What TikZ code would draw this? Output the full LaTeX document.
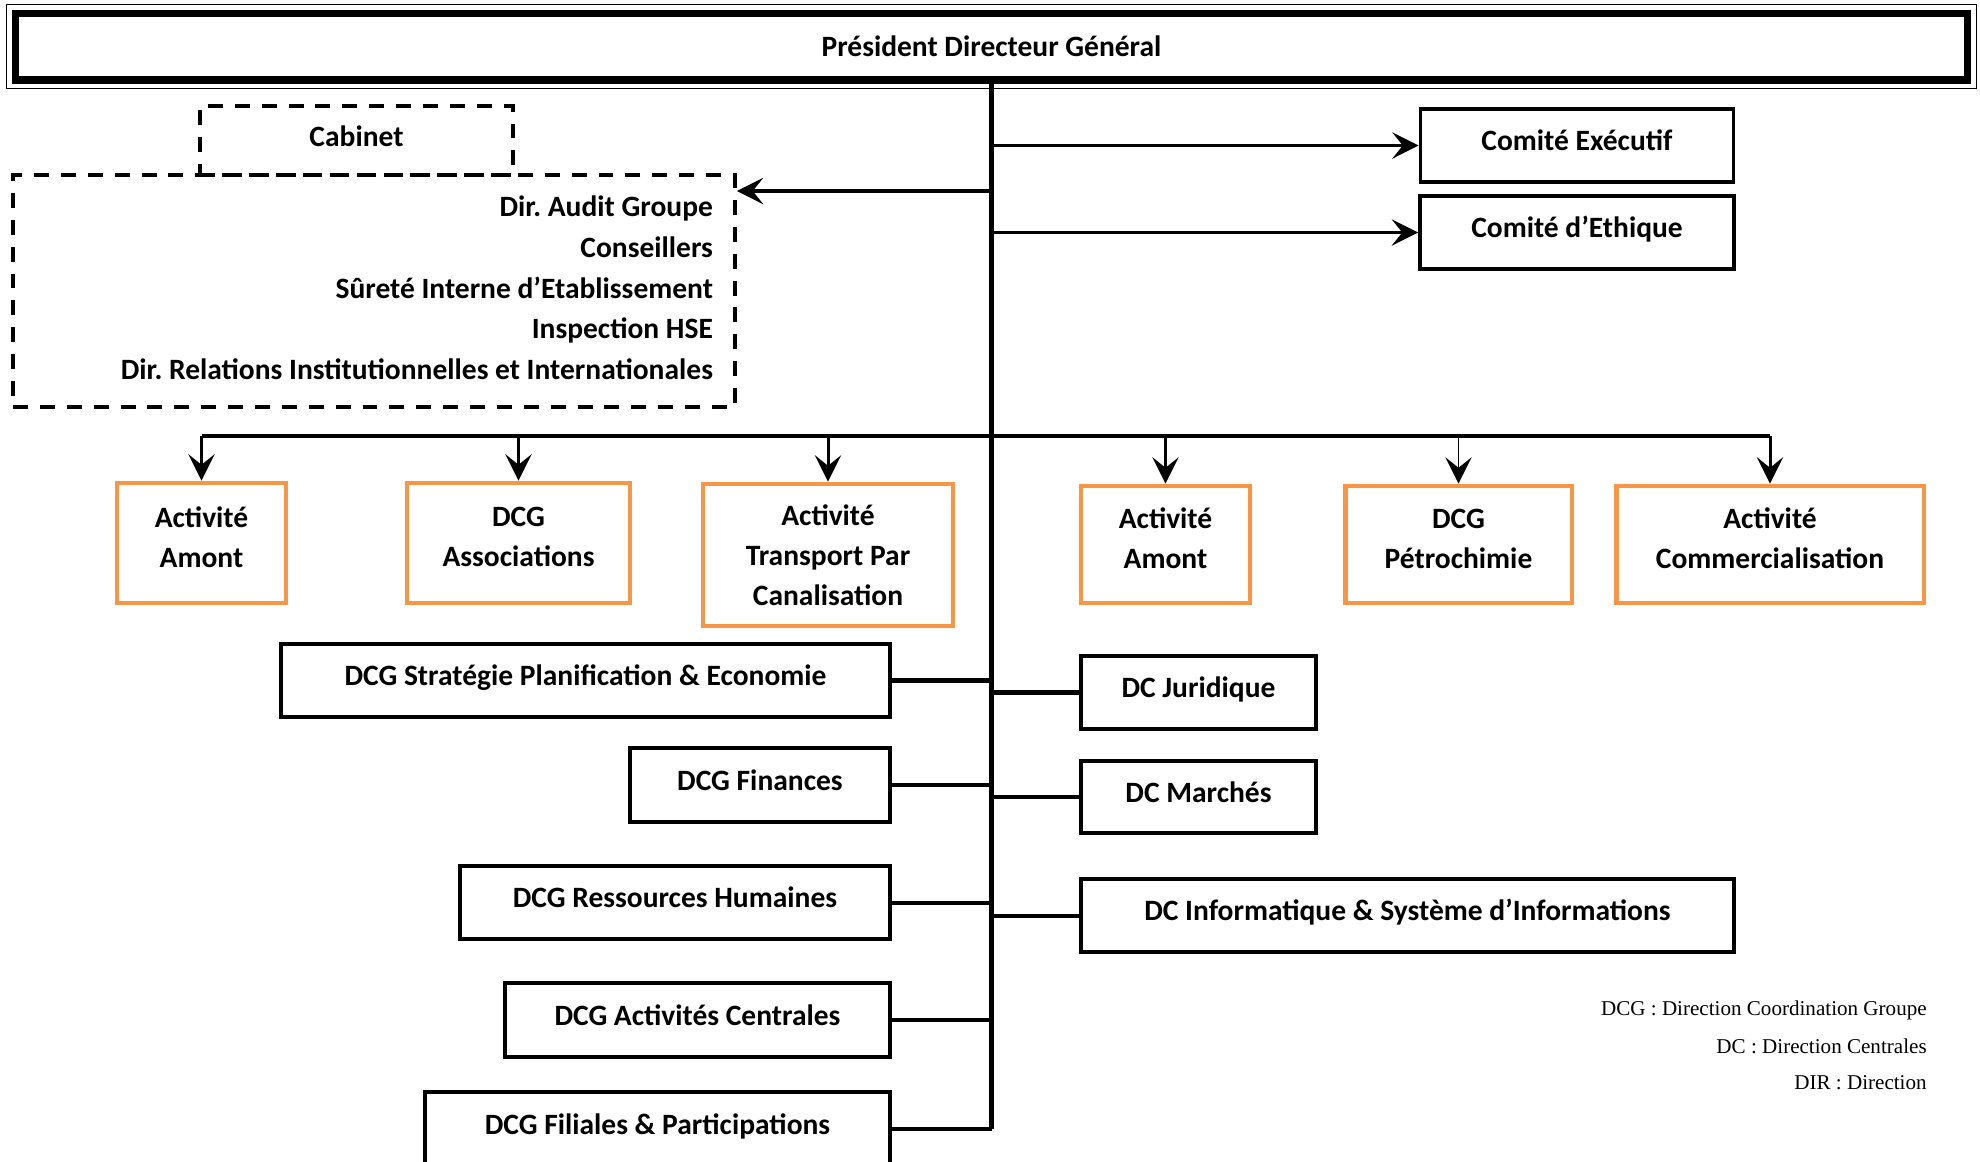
\documentclass[tikz,border=0pt]{standalone}
\usepackage{fontspec}
\setmainfont{Carlito}
\newfontfamily\legendfont{Liberation Serif}
\frenchspacing
\usetikzlibrary{arrows.meta}
\definecolor{actorange}{HTML}{F79646}
\tikzset{
  blackbox/.style={draw,line width=2.2pt,minimum height=1.46cm,inner sep=0pt,text height=11pt,text depth=5pt},
  actbox/.style={draw=actorange,line width=2.8pt,minimum height=2.34cm,inner sep=0pt,align=center,text depth=7pt},
  dashbox/.style={draw,line width=2.2pt,dash pattern=on 8.5pt off 6.8pt,inner sep=0pt},
  link/.style={line width=2.3pt},
  arrowlink/.style={line width=2pt,-{Stealth[length=15pt,width=15pt,inset=6pt]}},
  legend/.style={anchor=east,inner sep=0pt,font=\legendfont\mdseries\fontsize{12}{14}\selectfont}
}
\newcommand{\orgbox}[4][]{\node[blackbox,#1] at (#2) (#3) {#4}}
\newcommand{\activity}[4][]{\node[actbox,#1] at (#2) (#3) {#4}}

\begin{document}
\begin{tikzpicture}[x=0.02cm,y=-0.02cm,font=\fontsize{16.8}{22.8}\selectfont\bfseries]
  \useasboundingbox (0,0) rectangle (1980,1161);
  \clip (0,0) rectangle (1980,1161);

  \node[draw,line width=4pt,minimum width=39.06cm,minimum height=1.34cm,inner sep=0pt,text height=11pt,text depth=0pt] at (991.5,46.5) (pdg) {Président Directeur Général};
  \draw[line width=0.8pt] ([shift={(-5,-5)}]pdg.north west) rectangle ([shift={(5,5)}]pdg.south east);

  \node[dashbox,minimum width=6.26cm,minimum height=1.38cm,text height=11pt,text depth=4pt] at (356.5,140.5) (cabinet) {Cabinet};
  \node[dashbox,minimum width=14.44cm,minimum height=4.64cm,text width=13.56cm,align=flush right,text depth=96.6pt,font=\fontsize{16.8}{23.2}\selectfont\bfseries] at (374,291) (staff)
    {Dir. Audit Groupe\\Conseillers\\Sûreté Interne d’Etablissement\\Inspection HSE\\Dir. Relations Institutionnelles et Internationales};

  \orgbox[minimum width=6.26cm]{1577,145.5}{comex}{Comité Exécutif};
  \orgbox[minimum width=6.28cm]{1577,232.5}{ethic}{Comité d’Ethique};

  \activity[minimum width=3.38cm,minimum height=2.4cm]{201.5,543}{amontA}{Activité\\Amont};
  \activity[minimum width=4.46cm,minimum height=2.4cm]{518.5,543}{assoc}{DCG\\Associations};
  \activity[minimum width=5cm,minimum height=2.84cm,text depth=0pt]{828,555}{transp}{Activité\\Transport Par\\Canalisation};
  \activity[minimum width=3.38cm]{1165.5,544.5}{amontB}{Activité\\Amont};
  \activity[minimum width=4.54cm]{1458.5,544.5}{petro}{DCG\\Pétrochimie};
  \activity[minimum width=6.16cm]{1770,544.5}{commerc}{Activité\\Commercialisation};

  \orgbox[minimum width=12.18cm]{585.5,680.5}{strat}{DCG Stratégie Planification \& Economie};
  \orgbox[minimum width=5.2cm,minimum height=1.48cm]{760,785}{fin}{DCG Finances};
  \orgbox[minimum width=8.6cm]{675,902.5}{rh}{DCG Ressources Humaines};
  \orgbox[minimum width=7.7cm,minimum height=1.48cm]{697.5,1020}{actc}{DCG Activités Centrales};
  \orgbox[minimum width=9.3cm,minimum height=1.48cm]{657.5,1129}{filia}{DCG Filiales \& Participations};

  \orgbox[minimum width=4.7cm]{1198.5,692.5}{jurid}{DC Juridique};
  \orgbox[minimum width=4.7cm,minimum height=1.44cm]{1198.5,797}{march}{DC Marchés};
  \orgbox[minimum width=13.06cm]{1407.5,915.5}{info}{DC Informatique \& Système d’Informations};

  \node[legend] at (1927,1010) (leg1) {DCG : Direction Coordination Groupe};
  \node[legend] at (1927,1046) (leg2) {DC : Direction Centrales};
  \node[legend] at (1927,1083) (leg3) {DIR : Direction};

  \coordinate (audit) at (990,191);
  \coordinate (bus) at (990,436);

  \draw[link,line width=2.6pt] (pdg.south) -- (pdg.south |- filia.east);
  \draw[link]
        (amontA.north |- bus) -- (commerc.north |- bus)
        (strat.east) -- (strat.east -| pdg.south)
        (fin.east)   -- (fin.east -| pdg.south)
        (rh.east)    -- (rh.east -| pdg.south)
        (actc.east)  -- (actc.east -| pdg.south)
        (filia.east) -- (filia.east -| pdg.south)
        (jurid.west) -- (jurid.west -| pdg.south)
        (march.west) -- (march.west -| pdg.south)
        (info.west)  -- (info.west -| pdg.south);
  \draw[arrowlink] (audit) -- (audit -| staff.east);
  \draw[arrowlink] (comex.west -| pdg.south) -- (comex.west);
  \draw[arrowlink] (ethic.west -| pdg.south) -- (ethic.west);
  \draw[arrowlink,line width=1.7pt] (amontA.north |- bus) -- (amontA.north);
  \draw[arrowlink,line width=1.7pt] (assoc.north |- bus) -- (assoc.north);
  \draw[arrowlink,line width=1.7pt] (transp.north |- bus) -- (transp.north);
  \draw[arrowlink,line width=1.7pt] (amontB.north |- bus) -- (amontB.north);
  \draw[arrowlink,line width=1pt] (petro.north |- bus) -- (petro.north);
  \draw[arrowlink,line width=1.7pt] (commerc.north |- bus) -- (commerc.north);
\end{tikzpicture}
\end{document}
